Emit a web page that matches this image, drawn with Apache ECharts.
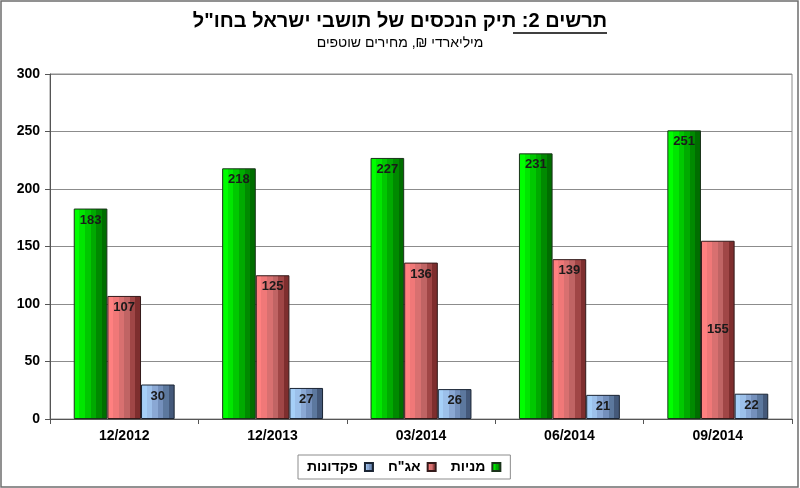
<!DOCTYPE html>
<html><head><meta charset="utf-8">
<script src="https://cdn.jsdelivr.net/npm/echarts@6/dist/echarts.min.js"></script>
<style>html,body{margin:0;padding:0;background:#fff}#c{width:800px;height:488px}</style>
</head><body><div id="c"></div>
<script>
var categories = ['12/2012','12/2013','03/2014','06/2014','09/2014'];
var stocks = [183, 218, 227, 231, 251];
var bonds = [107, 125, 136, 139, 155];
var deposits = [30, 27, 26, 21, 22];
var yTicks = [0, 50, 100, 150, 200, 250, 300];
var names = ['מניות', 'אג"ח', 'פקדונות'];
var titleMain = 'תרשים 2: תיק הנכסים של תושבי ישראל בחו"ל';
var subTitle = 'מיליארדי ₪, מחירים שוטפים';

function stripes(cols){
  var stops = [], n = cols.length;
  for (var i=0;i<n;i++){
    stops.push({offset:i/n, color:cols[i]});
    stops.push({offset:(i+1)/n-0.0001, color:cols[i]});
  }
  return {type:'linear', x:0, y:0, x2:1, y2:0, colorStops:stops};
}
var gGreen = stripes(['#00ff00','#00e600','#00c800','#00aa00','#008a00','#006e00']);
var gRed = stripes(['#ff8080','#f07878','#d87070','#c06464','#a04646','#7e2e2e']);
var gBlue = stripes(['#a6d0f8','#9cc0ea','#8aa8d4','#7490bc','#5c789e','#44597a']);

var font = '"Liberation Sans", Arial, sans-serif';
var chart = echarts.init(document.getElementById('c'), null, {renderer:'canvas'});
function lbl(pos){
  return {show:true, position:pos, distance:5, fontFamily:font, fontWeight:'bold', fontSize:13, color:'#1a1a1a'};
}
var bondData = bonds.map(function(v,i){
  return i === bonds.length-1 ? {value:v, label:{position:'inside'}} : v;
});
chart.setOption({
  animation:false,
  grid:{left:50, right:8, top:74, bottom:69, show:true, borderColor:'#8c8c8c', borderWidth:1},
  legend:{
    data:[names[2], names[1], names[0]],
    top:455, left:298,
    align:'right',
    icon:'rect', itemWidth:8, itemHeight:8, itemGap:14,
    borderColor:'#8c8c8c', borderWidth:1, padding:[5,9,5,9],
    textStyle:{fontFamily:font, fontWeight:'bold', fontSize:14, color:'#000', padding:[0,2,0,0]}
  },
  xAxis:{
    type:'category', data:categories,
    axisLine:{lineStyle:{color:'#555'}},
    axisTick:{show:true, length:5, lineStyle:{color:'#555'}},
    axisLabel:{fontFamily:font, fontWeight:'bold', fontSize:14, color:'#000', margin:10}
  },
  yAxis:{
    type:'value', min:yTicks[0], max:yTicks[yTicks.length-1], interval:50,
    axisLine:{show:true, lineStyle:{color:'#555'}},
    axisTick:{show:true, length:5, lineStyle:{color:'#555'}},
    axisLabel:{fontFamily:font, fontWeight:'bold', fontSize:14, color:'#000', margin:10},
    splitLine:{lineStyle:{color:'#8c8c8c'}}
  },
  series:[
    {name:names[0], type:'bar', data:stocks, barGap:'0%', barCategoryGap:'32%',
     itemStyle:{color:gGreen, borderColor:'#1a331a', borderWidth:1}, label:lbl('insideTop')},
    {name:names[1], type:'bar', data:bondData, barGap:'0%', barCategoryGap:'32%',
     itemStyle:{color:gRed, borderColor:'#331a1a', borderWidth:1}, label:lbl('insideTop')},
    {name:names[2], type:'bar', data:deposits, barGap:'0%', barCategoryGap:'32%',
     itemStyle:{color:gBlue, borderColor:'#1a2433', borderWidth:1}, label:lbl('insideTop')}
  ],
  graphic:[
    {type:'rect', shape:{x:1, y:1, width:797, height:486}, style:{fill:'none', stroke:'#6e6e6e', lineWidth:1.5}, silent:true},
    {type:'text', x:400, y:21, style:{text:titleMain, fontFamily:font, fontWeight:'bold', fontSize:20, fill:'#000', align:'center', verticalAlign:'middle'}},
    {type:'line', shape:{x1:513, y1:33, x2:607, y2:33}, style:{stroke:'#000', lineWidth:1.5}},
    {type:'text', x:400, y:43, style:{text:subTitle, fontFamily:font, fontSize:14, fill:'#000', align:'center', verticalAlign:'middle'}}
  ]
});
</script></body></html>
